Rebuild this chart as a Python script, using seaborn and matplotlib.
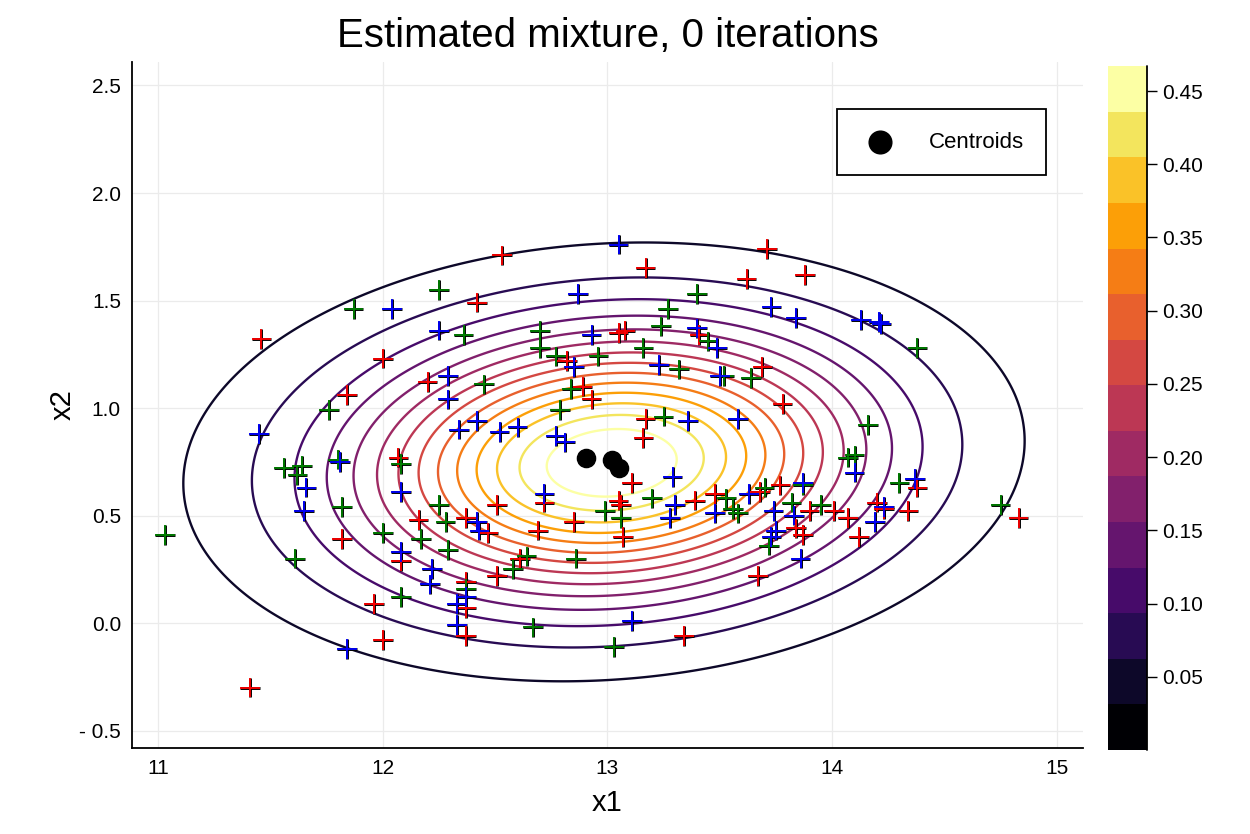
import numpy as np
import pandas as pd
import matplotlib
matplotlib.use("Agg")
import matplotlib.pyplot as plt
from matplotlib import colors, patheffects
import seaborn as sns

# points, grouped by colour
red_x1 = [11.46, 12.00, 12.20, 12.53, 13.17, 12.42, 13.05, 13.08, 13.41, 12.82, 12.89, 13.71,
          13.62, 13.88, 13.69, 11.84, 12.07, 12.16, 11.82, 12.93, 13.17, 13.16, 13.11, 13.39,
          13.48, 12.72, 12.51, 13.05, 13.06, 12.85, 12.69, 13.07, 12.37, 12.47, 13.78, 14.38,
          14.83, 13.68, 13.77, 13.90, 14.01, 14.07, 14.20, 14.23, 14.34, 14.12, 13.84, 13.87,
          12.08, 11.96, 12.00, 11.41, 12.61, 12.51, 12.37, 12.37, 12.37, 13.34, 13.67]
red_x2 = [1.32, 1.23, 1.12, 1.71, 1.65, 1.49, 1.35, 1.36, 1.34, 1.22, 1.10, 1.74,
          1.60, 1.62, 1.19, 1.06, 0.77, 0.48, 0.39, 1.04, 0.95, 0.86, 0.65, 0.57,
          0.60, 0.56, 0.55, 0.57, 0.55, 0.47, 0.43, 0.40, 0.49, 0.42, 1.02, 0.63,
          0.49, 0.61, 0.64, 0.52, 0.52, 0.49, 0.56, 0.53, 0.52, 0.40, 0.44, 0.41,
          0.29, 0.09, -0.08, -0.30, 0.30, 0.22, 0.19, 0.07, -0.06, -0.06, 0.22]

green_x1 = [11.87, 12.25, 13.40, 13.27, 12.36, 12.70, 12.70, 13.24, 13.45, 13.16, 12.77, 12.96,
            13.32, 13.52, 12.45, 12.84, 14.38, 13.64, 11.76, 11.56, 11.64, 11.62, 11.80, 11.82,
            12.08, 12.25, 11.03, 12.00, 12.17, 12.79, 13.25, 13.20, 13.53, 13.56, 12.99, 13.06,
            12.28, 14.16, 14.07, 14.10, 14.30, 14.75, 13.70, 13.87, 13.82, 13.95, 13.58, 11.61,
            12.08, 12.29, 12.64, 12.58, 12.86, 12.37, 12.67, 13.03, 13.72]
green_x2 = [1.46, 1.55, 1.53, 1.46, 1.34, 1.36, 1.28, 1.38, 1.31, 1.28, 1.24, 1.24,
            1.18, 1.15, 1.11, 1.09, 1.28, 1.14, 0.99, 0.72, 0.73, 0.69, 0.76, 0.54,
            0.74, 0.55, 0.41, 0.42, 0.39, 0.99, 0.96, 0.58, 0.58, 0.53, 0.52, 0.49,
            0.47, 0.92, 0.77, 0.78, 0.65, 0.55, 0.63, 0.64, 0.56, 0.55, 0.51, 0.30,
            0.12, 0.34, 0.31, 0.25, 0.30, 0.16, -0.02, -0.11, 0.36]

blue_x1 = [12.04, 12.25, 12.29, 13.05, 12.87, 12.93, 13.40, 13.49, 12.85, 13.23, 13.50, 13.73,
           13.84, 14.13, 14.21, 14.22, 11.45, 11.66, 11.65, 11.81, 12.08, 12.29, 12.42, 12.34,
           12.52, 12.60, 12.77, 12.81, 13.36, 13.58, 13.29, 13.48, 13.30, 13.28, 12.72, 12.42,
           12.43, 14.10, 14.37, 13.63, 13.87, 13.74, 13.83, 14.23, 14.19, 13.75, 13.73, 12.08,
           12.22, 12.21, 11.84, 12.37, 12.33, 12.33, 13.11, 13.86]
blue_x2 = [1.46, 1.36, 1.15, 1.76, 1.53, 1.34, 1.37, 1.28, 1.19, 1.20, 1.15, 1.47,
           1.42, 1.41, 1.40, 1.39, 0.88, 0.63, 0.52, 0.75, 0.61, 1.04, 0.94, 0.90,
           0.89, 0.91, 0.87, 0.84, 0.94, 0.95, 0.68, 0.51, 0.55, 0.49, 0.60, 0.47,
           0.43, 0.70, 0.67, 0.60, 0.65, 0.52, 0.50, 0.54, 0.47, 0.43, 0.40, 0.33,
           0.25, 0.18, -0.12, 0.12, 0.09, -0.01, 0.01, 0.30]

# mixture estimate: centroids, spreads and weights of the three components
centroid_x1 = [12.905, 13.02, 13.05]
centroid_x2 = [0.769, 0.758, 0.72]
comp_sd_x1 = [1.05, 0.68, 0.76]
comp_sd_x2 = [0.58, 0.37, 0.41]
comp_corr = [0.10, 0.10, 0.10]
mix_weights = [1 / 3, 1 / 3, 1 / 3]

z_max = 0.467
n_bands = 15
cbar_ticks = [0.05, 0.10, 0.15, 0.20, 0.25, 0.30, 0.35, 0.40, 0.45]
x_ticks = [11, 12, 13, 14, 15]
y_ticks = [-0.5, 0.0, 0.5, 1.0, 1.5, 2.0, 2.5]

sns.set_theme(style="white")
plt.rcParams['font.family'] = ['Liberation Sans', 'DejaVu Sans']
plt.rcParams['text.color'] = 'black'
plt.rcParams['axes.labelcolor'] = 'black'

fig = plt.figure(figsize=(12.5, 8.34), dpi=100)
ax = fig.add_axes([0.1056, 0.1031, 0.7608, 0.8225])
cax = fig.add_axes([0.8864, 0.1007, 0.0312, 0.820])

xlim = (10.884, 15.117)
ylim = (-0.581, 2.609)

# density of the mixture on a grid
gx = np.linspace(xlim[0], xlim[1], 400)
gy = np.linspace(ylim[0], ylim[1], 400)
X, Y = np.meshgrid(gx, gy)
Z = np.zeros_like(X)
for w, mx, my, sx, sy, r in zip(mix_weights, centroid_x1, centroid_x2,
                                comp_sd_x1, comp_sd_x2, comp_corr):
    cov = np.array([[sx ** 2, r * sx * sy], [r * sx * sy, sy ** 2]])
    inv = np.linalg.inv(cov)
    dx, dy = X - mx, Y - my
    q = inv[0, 0] * dx * dx + 2 * inv[0, 1] * dx * dy + inv[1, 1] * dy * dy
    Z += w * np.exp(-0.5 * q) / (2 * np.pi * np.sqrt(np.linalg.det(cov)))

bounds = np.linspace(0, z_max, n_bands + 1)
cmap = colors.ListedColormap(plt.cm.inferno(np.linspace(0, 1, n_bands)))
bnorm = colors.BoundaryNorm(bounds, n_bands)

ax.contour(X, Y, Z, levels=bounds[1:-1], cmap=cmap, norm=bnorm, linewidths=1.7, zorder=2)

pts = pd.concat([
    pd.DataFrame({'x1': red_x1, 'x2': red_x2, 'grp': 'red'}),
    pd.DataFrame({'x1': green_x1, 'x2': green_x2, 'grp': 'green'}),
    pd.DataFrame({'x1': blue_x1, 'x2': blue_x2, 'grp': 'blue'}),
], ignore_index=True)
sns.scatterplot(data=pts, x='x1', y='x2', hue='grp',
                palette={'red': '#ff0000', 'green': '#008000', 'blue': '#0000ff'},
                marker='+', s=200, linewidth=1.3, legend=False, ax=ax, zorder=3)
ax.collections[-1].set_path_effects([patheffects.Stroke(linewidth=2.1, foreground='black'),
                                     patheffects.Normal()])

cent = pd.DataFrame({'x1': centroid_x1, 'x2': centroid_x2})
sns.scatterplot(data=cent, x='x1', y='x2', color='black', s=170, edgecolor='black',
                label='Centroids', ax=ax, zorder=4)

ax.set_xlim(*xlim)
ax.set_ylim(*ylim)
ax.set_xticks(x_ticks)
ax.set_xticklabels([str(t) for t in x_ticks])
ax.set_yticks(y_ticks)
ax.set_yticklabels([('- %.1f' % -t) if t < 0 else '%.1f' % t for t in y_ticks])
ax.grid(True, color='#ebebeb', linewidth=0.9)
ax.set_axisbelow(True)
for s in ['top', 'right']:
    ax.spines[s].set_visible(False)
for s in ['left', 'bottom']:
    ax.spines[s].set_color('black')
    ax.spines[s].set_linewidth(1.3)
ax.tick_params(axis='both', direction='in', length=5, width=1, labelsize=15,
               colors='black', pad=8)
ax.set_xlabel('x1', fontsize=21, labelpad=8)
ax.set_ylabel('x2', fontsize=21, labelpad=2)
ax.set_title('Estimated mixture, 0 iterations', fontsize=29, pad=11, color='black')

leg = ax.legend(loc='upper right', bbox_to_anchor=(0.961, 0.931), borderaxespad=0,
                fontsize=16, frameon=True, fancybox=False, framealpha=1, edgecolor='black',
                borderpad=1.0, handletextpad=1.3, handlelength=1.8, markerscale=1.25)
leg.get_frame().set_linewidth(1.3)

sm = plt.cm.ScalarMappable(norm=bnorm, cmap=cmap)
cb = fig.colorbar(sm, cax=cax, ticks=cbar_ticks, boundaries=bounds)
cb.minorticks_off()
cb.outline.set_visible(False)
cax.plot([1, 1], [0, 1], transform=cax.transAxes, color='black', lw=1.3, clip_on=False)
cax.set_yticklabels(['%.2f' % t for t in cbar_ticks])
cax.tick_params(axis='y', direction='out', length=7, width=1, labelsize=15, pad=4,
                colors='black')

fig.savefig('out.png', dpi=100)
